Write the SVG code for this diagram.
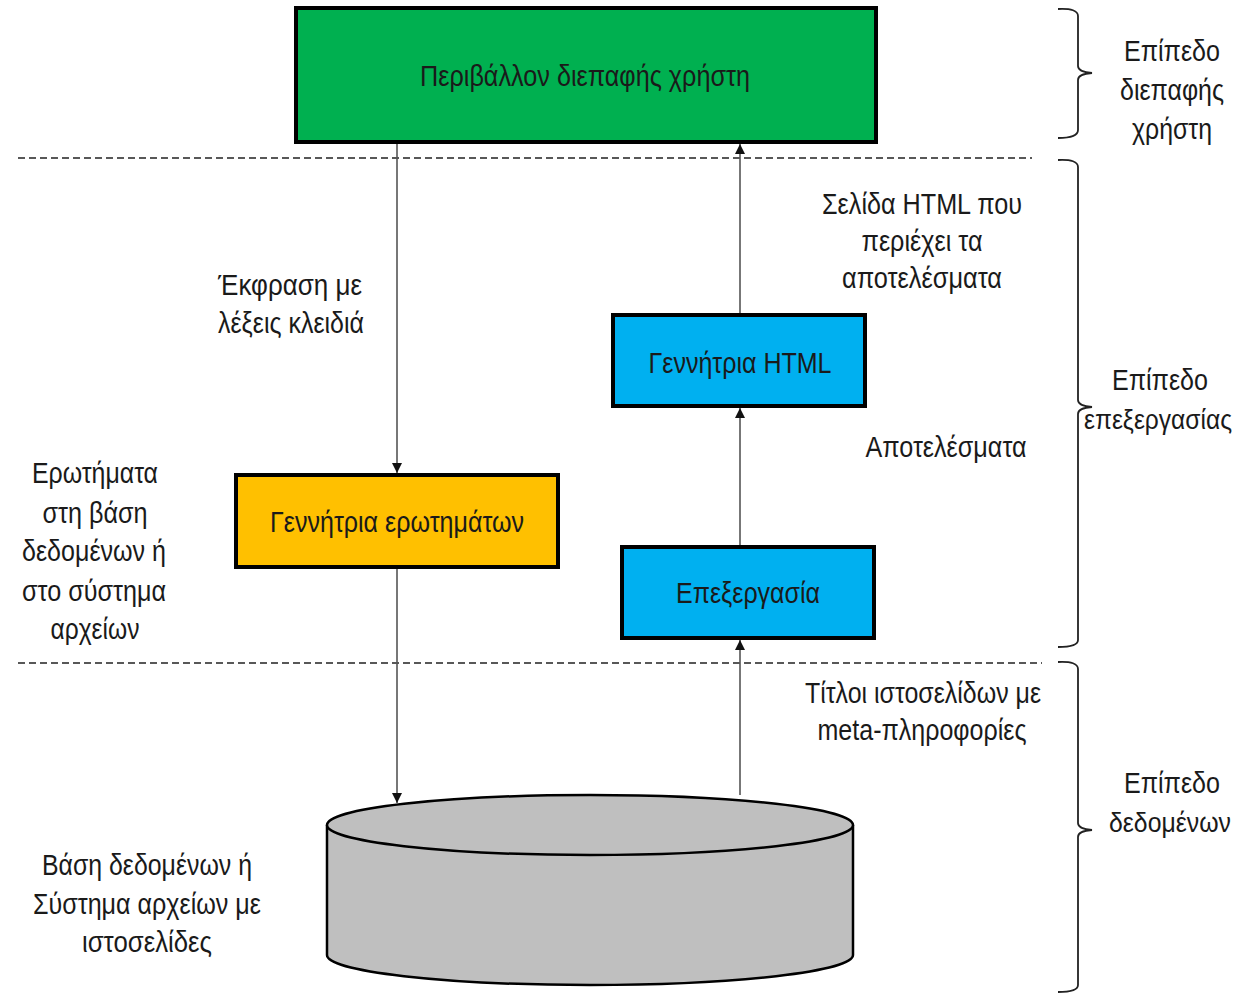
<svg xmlns="http://www.w3.org/2000/svg" width="1244" height="995" viewBox="0 0 1244 995">
  <defs>
    <marker id="arrow" viewBox="0 0 10 10" refX="10" refY="5" markerWidth="10" markerHeight="10" markerUnits="userSpaceOnUse" orient="auto">
      <path d="M0,0 L10,5 L0,10 z" fill="#111"/>
    </marker>
    <style>
      text { font-family: "Liberation Sans Narrow", "Liberation Sans", Arial, sans-serif; font-size: 30px; fill: #1a1a1a; text-anchor: middle; }
      text.side { font-size: 28px; }
      .box { stroke: #000; stroke-width: 4; }
      .flow { stroke: #555; stroke-width: 1.6; fill: none; marker-end: url(#arrow); }
      .sep { stroke: #222; stroke-width: 1.6; stroke-dasharray: 7 4; fill: none; }
      .brace { stroke: #222; stroke-width: 1.8; fill: none; }
    </style>
  </defs>
  <rect width="1244" height="995" fill="#fff"/>

  <!-- layer separators -->
  <g id="separators">
    <line class="sep" x1="18" y1="158" x2="1032" y2="158"/>
    <line class="sep" x1="18" y1="663" x2="1042" y2="663"/>
  </g>

  <!-- layer braces and labels -->
  <g id="layer-ui">
    <path class="brace" d="M1058,9 Q1078,8 1078,16 L1078,66 Q1078,72 1092,73 Q1078,74 1078,80 L1078,130 Q1078,138 1058,138"/>
    <text x="1172" y="61" textLength="96" lengthAdjust="spacingAndGlyphs">Επίπεδο</text>
    <text x="1172" y="100" textLength="104" lengthAdjust="spacingAndGlyphs">διεπαφής</text>
    <text x="1172" y="139" textLength="80" lengthAdjust="spacingAndGlyphs">χρήστη</text>
  </g>
  <g id="layer-processing">
    <path class="brace" d="M1058,160 Q1078,159 1078,167 L1078,400 Q1078,406 1092,407 Q1078,408 1078,414 L1078,640 Q1078,647 1058,647"/>
    <text x="1160" y="390" textLength="96" lengthAdjust="spacingAndGlyphs">Επίπεδο</text>
    <text class="side" x="1158" y="429" textLength="148" lengthAdjust="spacingAndGlyphs">επεξεργασίας</text>
  </g>
  <g id="layer-data">
    <path class="brace" d="M1058,662 Q1078,661 1078,669 L1078,823 Q1078,829 1092,830 Q1078,831 1078,837 L1078,985 Q1078,992 1058,992"/>
    <text x="1172" y="793" textLength="96" lengthAdjust="spacingAndGlyphs">Επίπεδο</text>
    <text class="side" x="1170" y="832" textLength="122" lengthAdjust="spacingAndGlyphs">δεδομένων</text>
  </g>

  <!-- connectors -->
  <g id="connectors">
    <line class="flow" x1="397" y1="142" x2="397" y2="473"/>
    <line class="flow" x1="397" y1="567" x2="397" y2="803"/>
    <line class="flow" x1="740" y1="795" x2="740" y2="640"/>
    <line class="flow" x1="740" y1="547" x2="740" y2="408"/>
    <line class="flow" x1="740" y1="315" x2="740" y2="144"/>
  </g>

  <!-- nodes -->
  <g id="ui">
    <rect class="box" x="296" y="8" width="580" height="134" fill="#00B050"/>
    <text x="585" y="86" textLength="330" lengthAdjust="spacingAndGlyphs">Περιβάλλον διεπαφής χρήστη</text>
  </g>
  <g id="query-generator">
    <rect class="box" x="236" y="475" width="322" height="92" fill="#FFC000"/>
    <text x="397" y="532" textLength="254" lengthAdjust="spacingAndGlyphs">Γεννήτρια ερωτημάτων</text>
  </g>
  <g id="html-generator">
    <rect class="box" x="613" y="315" width="252" height="91" fill="#00B0F0"/>
    <text x="740" y="373" textLength="183" lengthAdjust="spacingAndGlyphs">Γεννήτρια HTML</text>
  </g>
  <g id="processing">
    <rect class="box" x="622" y="547" width="252" height="91" fill="#00B0F0"/>
    <text x="748" y="603" textLength="144" lengthAdjust="spacingAndGlyphs">Επεξεργασία</text>
  </g>
  <g id="database">
    <path d="M327,825 L327,955 A263,30 0 0 0 853,955 L853,825" fill="#BFBFBF" stroke="#000" stroke-width="2.5"/>
    <ellipse cx="590" cy="825" rx="263" ry="30" fill="#BFBFBF" stroke="#000" stroke-width="2.5"/>
  </g>

  <!-- flow labels -->
  <g id="labels">
    <text x="290" y="295" textLength="144" lengthAdjust="spacingAndGlyphs">Έκφραση με</text>
    <text x="291" y="333" textLength="146" lengthAdjust="spacingAndGlyphs">λέξεις κλειδιά</text>

    <text x="922" y="214" textLength="200" lengthAdjust="spacingAndGlyphs">Σελίδα HTML που</text>
    <text x="922" y="251" textLength="121" lengthAdjust="spacingAndGlyphs">περιέχει τα</text>
    <text x="922" y="288" textLength="160" lengthAdjust="spacingAndGlyphs">αποτελέσματα</text>

    <text x="946" y="457" textLength="161" lengthAdjust="spacingAndGlyphs">Αποτελέσματα</text>

    <text x="95" y="483" textLength="126" lengthAdjust="spacingAndGlyphs">Ερωτήματα</text>
    <text x="95" y="523" textLength="105" lengthAdjust="spacingAndGlyphs">στη βάση</text>
    <text x="94" y="561" textLength="144" lengthAdjust="spacingAndGlyphs">δεδομένων ή</text>
    <text x="94" y="601" textLength="144" lengthAdjust="spacingAndGlyphs">στο σύστημα</text>
    <text x="95" y="639" textLength="89" lengthAdjust="spacingAndGlyphs">αρχείων</text>

    <text x="923" y="703" textLength="236" lengthAdjust="spacingAndGlyphs">Τίτλοι ιστοσελίδων με</text>
    <text x="922" y="740" textLength="209" lengthAdjust="spacingAndGlyphs">meta-πληροφορίες</text>

    <text x="147" y="875" textLength="210" lengthAdjust="spacingAndGlyphs">Βάση δεδομένων ή</text>
    <text x="147" y="914" textLength="228" lengthAdjust="spacingAndGlyphs">Σύστημα αρχείων με</text>
    <text x="147" y="952" textLength="130" lengthAdjust="spacingAndGlyphs">ιστοσελίδες</text>
  </g>
</svg>
